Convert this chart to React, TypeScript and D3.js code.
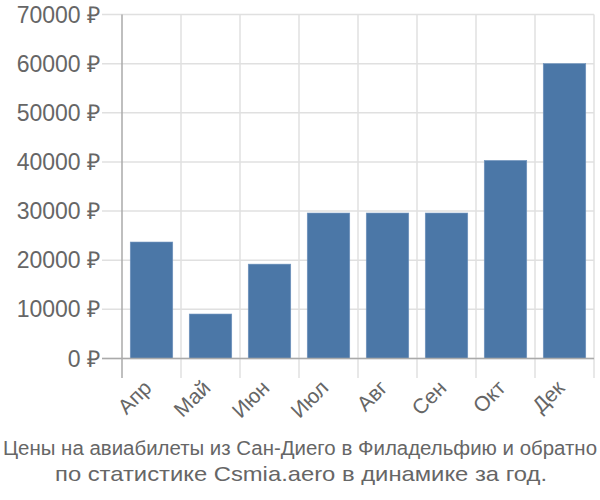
import React from "react";
import * as d3 from "d3";

const categories = ["Апр", "Май", "Июн", "Июл", "Авг", "Сен", "Окт", "Дек"];
const values = [23700, 9050, 19200, 29600, 29600, 29600, 40300, 60000];
const yTicks = [0, 10000, 20000, 30000, 40000, 50000, 60000, 70000];
const titleLines = [
  "Цены на авиабилеты из Сан-Диего в Филадельфию и обратно",
  "по статистике Csmia.aero в динамике за год.",
];

export default function App() {
  const W = 600, H = 500;
  const left = 122, right = 594, top = 14.5, bottom = 358.5;
  const x = d3.scaleBand().domain(categories).range([left, right]).paddingInner(0.28).paddingOuter(0.14);
  const xg = d3.scaleBand().domain(categories).range([left, right]);
  const y = d3.scaleLinear().domain([0, 70000]).range([bottom, top]);
  const font = "'Liberation Sans', Arial, sans-serif";
  return (
    <svg width={W} height={H} style={{ position: "absolute", left: 0, top: 0 }} fontFamily={font}>
      <rect width={W} height={H} fill="#fff" />
      {yTicks.map((t) => (
        <line key={t} x1={102} x2={right} y1={y(t)} y2={y(t)} stroke="#e0e0e0" strokeWidth={1.5} />
      ))}
      {categories.map((c) => (
        <line key={c} x1={xg(c)! + xg.bandwidth()} x2={xg(c)! + xg.bandwidth()} y1={top} y2={378} stroke="#e0e0e0" strokeWidth={1.5} />
      ))}
      {categories.map((c, i) => (
        <rect key={c} x={x(c)} y={y(values[i])} width={x.bandwidth()} height={bottom - y(values[i])} fill="#4b77a7" stroke="#6f93bd" strokeWidth={0.6} />
      ))}
      <line x1={left} x2={left} y1={top} y2={378} stroke="#aaa" strokeWidth={1.5} />
      <line x1={102} x2={right} y1={bottom} y2={bottom} stroke="#aaa" strokeWidth={1.5} />
      {yTicks.map((t) => (
        <text key={t} x={100} y={y(t)} dy="0.35em" textAnchor="end" fontSize={23} fill="#666">
          {t} ₽
        </text>
      ))}
      {categories.map((c) => {
        const cx = xg(c)! + xg.bandwidth() / 2 - 4;
        const cy = 384;
        return (
          <text key={c} transform={`translate(${cx},${cy}) rotate(-45)`} textAnchor="end" dy="0.35em" fontSize={21} fill="#666">
            {c}
          </text>
        );
      })}
      <text x={300} y={455} textAnchor="middle" fontSize={20} fill="#666" textLength={594} lengthAdjust="spacingAndGlyphs">
        {titleLines[0]}
      </text>
      <text x={301} y={481} textAnchor="middle" fontSize={21} fill="#666" textLength={492} lengthAdjust="spacingAndGlyphs">
        {titleLines[1]}
      </text>
    </svg>
  );
}
